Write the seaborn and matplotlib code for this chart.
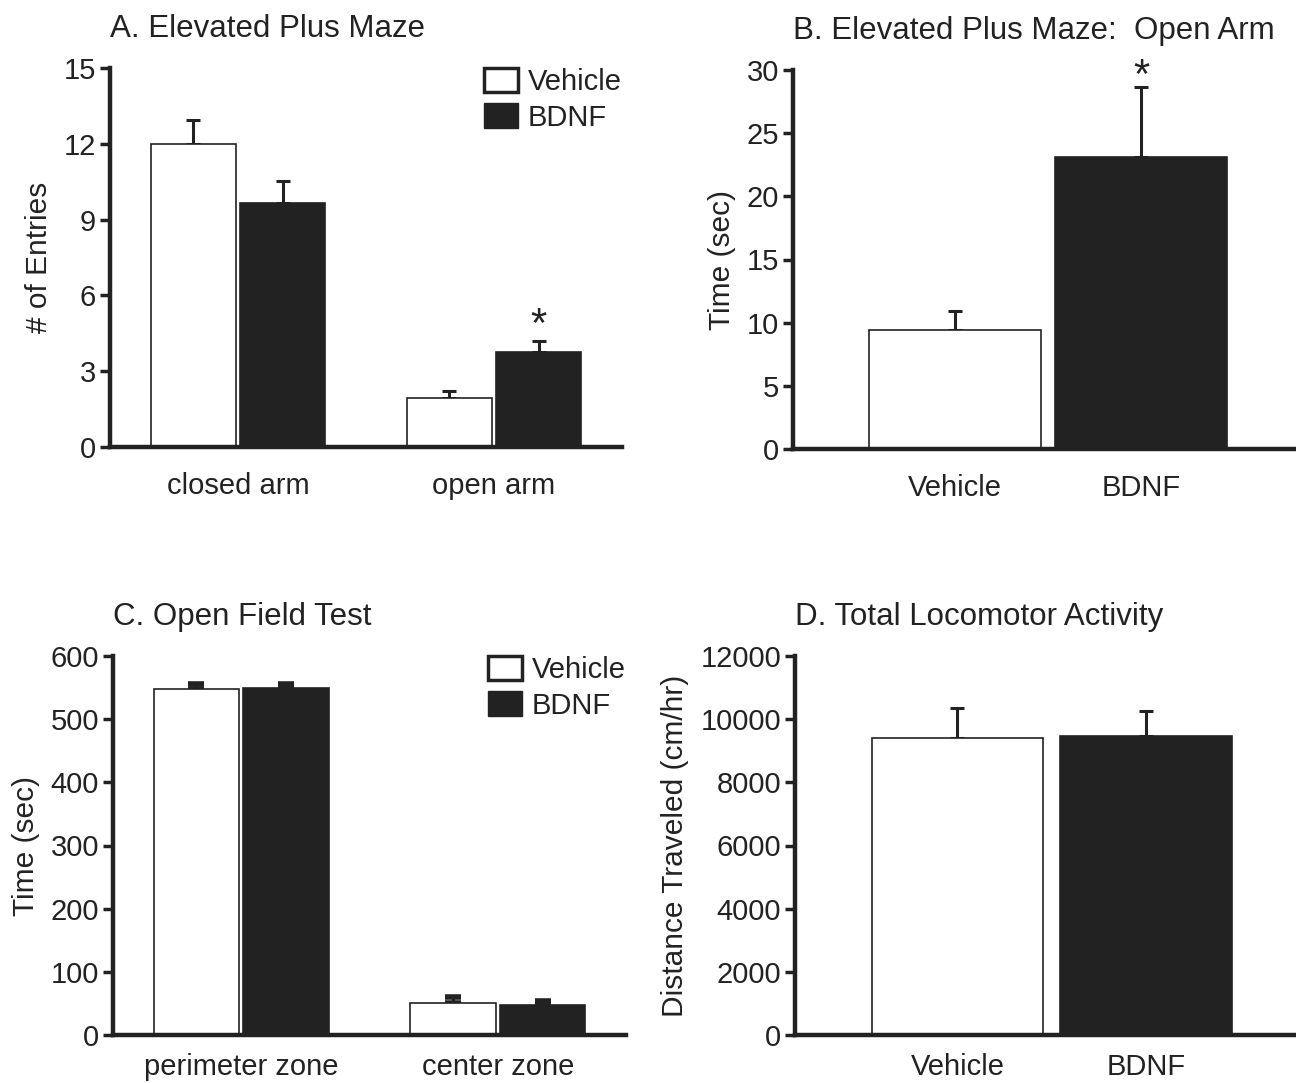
import numpy as np
import pandas as pd
import seaborn as sns
import matplotlib
matplotlib.use("Agg")
import matplotlib.pyplot as plt
from matplotlib.patches import Patch

# ---------------- data ----------------
treatments = ["Vehicle", "BDNF"]

a_groups = ["closed arm", "open arm"]
a_vehicle = [12.0, 1.95]
a_vehicle_err = [0.95, 0.25]
a_bdnf = [9.65, 3.75]
a_bdnf_err = [0.87, 0.45]

b_values = [9.4, 23.15]
b_err = [1.5, 5.5]

c_groups = ["perimeter zone", "center zone"]
c_vehicle = [547, 50.5]
c_vehicle_err = [8, 9]
c_bdnf = [550, 47.5]
c_bdnf_err = [5, 6]

d_values = [9390, 9480]
d_err = [950, 770]

# ---------------- style ----------------
INK = "#222222"
sns.set_theme(style="ticks")
plt.rcParams["font.family"] = ["Liberation Sans", "DejaVu Sans"]
plt.rcParams["text.color"] = INK
plt.rcParams["axes.labelcolor"] = INK
plt.rcParams["xtick.color"] = INK
plt.rcParams["ytick.color"] = INK
FS = 21
FS_T = 22.5
palette = {"Vehicle": "white", "BDNF": INK}

fig = plt.figure(figsize=(12.96, 10.83), dpi=100)

H = 379 / 1083
axA = fig.add_axes([110 / 1296, 1 - 447 / 1083, 512 / 1296, H])
axB = fig.add_axes([793 / 1296, 1 - 449 / 1083, 1 - 793 / 1296, H])
axC = fig.add_axes([113 / 1296, 1 - 1035 / 1083, 513 / 1296, H])
axD = fig.add_axes([795 / 1296, 1 - 1035 / 1083, 1 - 795 / 1296, H])


def grouped_df(groups, veh, bd):
    rows = []
    for g, v, b in zip(groups, veh, bd):
        rows.append({"group": g, "treatment": "Vehicle", "value": v})
        rows.append({"group": g, "treatment": "BDNF", "value": b})
    return pd.DataFrame(rows)


def add_err(ax, errs_xorder, capsize=5, capthick=2.2):
    bars = []
    for cont in ax.containers:
        for p in cont:
            bars.append((p.get_x() + p.get_width() / 2, p.get_height()))
    bars.sort(key=lambda t: t[0])
    xs = [b[0] for b in bars]
    ys = [b[1] for b in bars]
    ax.errorbar(xs, ys, yerr=[np.zeros(len(ys)), errs_xorder], fmt="none",
                ecolor=INK, elinewidth=2.2, capsize=capsize, capthick=capthick,
                zorder=1)
    return xs, ys


def style_axes(ax, yticks, ylabel, title, xpad=18):
    sns.despine(ax=ax)
    for s in ["left", "bottom"]:
        ax.spines[s].set_linewidth(3.2)
        ax.spines[s].set_color(INK)
        ax.spines[s].set_zorder(5)
    ax.set_yticks(yticks)
    ax.set_ylim(yticks[0], yticks[-1])
    ax.tick_params(axis="y", direction="out", length=7, width=2.5,
                   labelsize=FS, pad=3)
    ax.tick_params(axis="x", length=0, labelsize=FS, pad=xpad)
    ax.set_xlabel("")
    ax.set_ylabel(ylabel, fontsize=21.5, labelpad=8)
    ax.set_title(title, loc="left", fontsize=FS_T, pad=22, color=INK)
    ax.set_facecolor("white")


def legend(ax):
    handles = [Patch(facecolor="white", edgecolor=INK, linewidth=2.5, label="Vehicle"),
               Patch(facecolor=INK, edgecolor=INK, linewidth=1, label="BDNF")]
    ax.legend(handles=handles, loc="upper right", bbox_to_anchor=(1.0, 1.0),
              frameon=False, fontsize=FS, handlelength=1.15, handleheight=0.9,
              handletextpad=0.35, labelspacing=0.25, borderaxespad=0,
              borderpad=0)


# ---------------- Panel A ----------------
dfA = grouped_df(a_groups, a_vehicle, a_bdnf)
sns.barplot(data=dfA, x="group", y="value", hue="treatment", hue_order=treatments,
            palette=palette, edgecolor=INK, linewidth=1.2, width=0.7, gap=0.05,
            errorbar=None, legend=False, ax=axA, zorder=2)
xsA, ysA = add_err(axA, [a_vehicle_err[0], a_bdnf_err[0], a_vehicle_err[1], a_bdnf_err[1]])
axA.set_xlim(-0.5, 1.5)
style_axes(axA, [0, 3, 6, 9, 12, 15], "# of Entries", "A. Elevated Plus Maze")
legend(axA)
axA.annotate("*", xy=(xsA[3], ysA[3] + a_bdnf_err[1]), xytext=(0, -4),
             textcoords="offset points", ha="center", va="bottom", fontsize=30)

# ---------------- Panel B ----------------
dfB = pd.DataFrame({"treatment": treatments, "value": b_values})
sns.barplot(data=dfB, x="treatment", y="value", hue="treatment", hue_order=treatments,
            palette=palette, edgecolor=INK, linewidth=1.2, width=0.92, dodge=False,
            errorbar=None, legend=False, ax=axB, zorder=2)
xsB, ysB = add_err(axB, b_err)
axB.set_xlim(-0.871, 1.833)
style_axes(axB, [0, 5, 10, 15, 20, 25, 30], "Time (sec)", "B. Elevated Plus Maze:  Open Arm")
axB.annotate("*", xy=(xsB[1], ysB[1] + b_err[1]), xytext=(0, -7),
             textcoords="offset points", ha="center", va="bottom", fontsize=30,
             annotation_clip=False)

# ---------------- Panel C ----------------
dfC = grouped_df(c_groups, c_vehicle, c_bdnf)
sns.barplot(data=dfC, x="group", y="value", hue="treatment", hue_order=treatments,
            palette=palette, edgecolor=INK, linewidth=1.2, width=0.7, gap=0.05,
            errorbar=None, legend=False, ax=axC, zorder=2)
add_err(axC, [c_vehicle_err[0], c_bdnf_err[0], c_vehicle_err[1], c_bdnf_err[1]],
        capsize=6, capthick=4)
axC.set_xlim(-0.5, 1.5)
style_axes(axC, [0, 100, 200, 300, 400, 500, 600], "Time (sec)", "C. Open Field Test",
           xpad=13)
legend(axC)

# ---------------- Panel D ----------------
dfD = pd.DataFrame({"treatment": treatments, "value": d_values})
sns.barplot(data=dfD, x="treatment", y="value", hue="treatment", hue_order=treatments,
            palette=palette, edgecolor=INK, linewidth=1.2, width=0.91, dodge=False,
            errorbar=None, legend=False, ax=axD, zorder=2)
add_err(axD, d_err)
axD.set_xlim(-0.862, 1.796)
style_axes(axD, [0, 2000, 4000, 6000, 8000, 10000, 12000],
           "Distance Traveled (cm/hr)", "D. Total Locomotor Activity", xpad=13)

fig.savefig("out.png", dpi=100, facecolor="white")
